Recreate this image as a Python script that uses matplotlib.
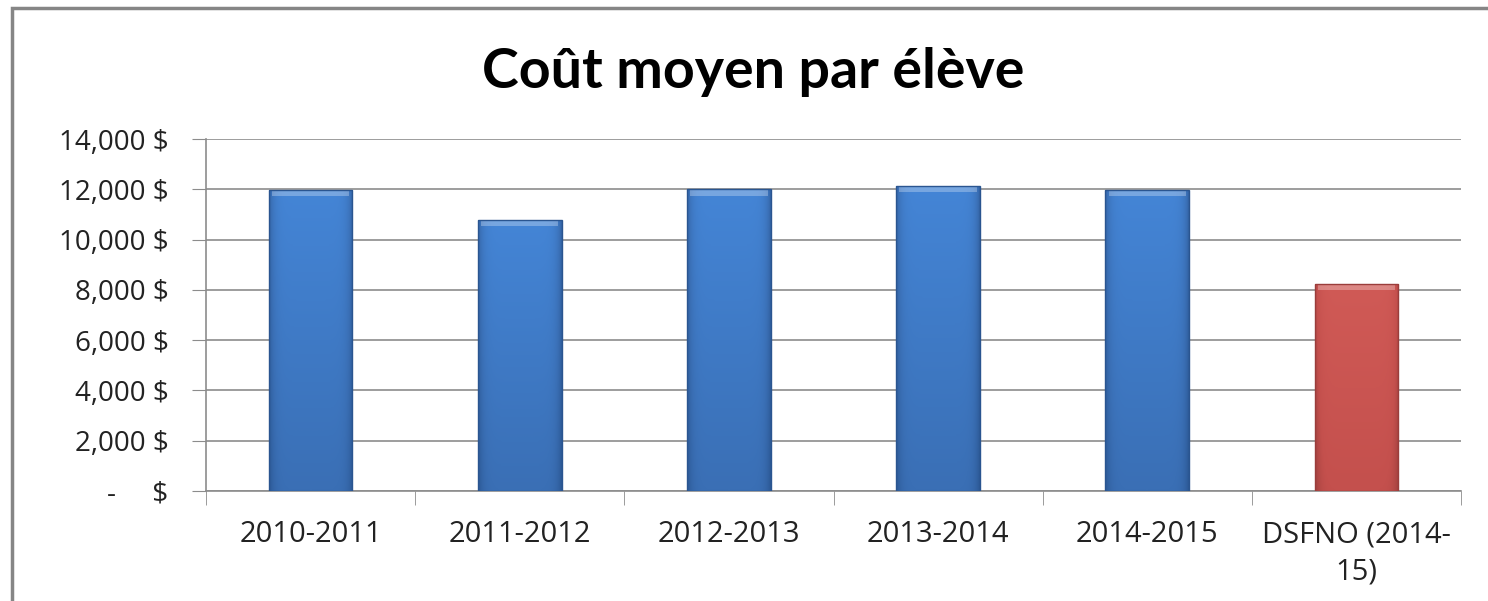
import numpy as np
import matplotlib
matplotlib.use("Agg")
import matplotlib.pyplot as plt
from matplotlib.patches import Rectangle
from matplotlib.colors import LinearSegmentedColormap

plt.rcParams['font.family'] = ['Open Sans', 'DejaVu Sans']

categories = ['2010-2011', '2011-2012', '2012-2013', '2013-2014', '2014-2015', 'DSFNO (2014-\n15)']
values = [11980, 10780, 12000, 12140, 11980, 8230]
yticks = [0, 2000, 4000, 6000, 8000, 10000, 12000, 14000]
ytick_labels = ['-     $', '2,000 $', '4,000 $', '6,000 $', '8,000 $', '10,000 $', '12,000 $', '14,000 $']
title = 'Coût moyen par élève'

blue = LinearSegmentedColormap.from_list('b', ['#2a5590', '#3a6fb5', '#4485d6'])
red = LinearSegmentedColormap.from_list('r', ['#9a3d3b', '#c4504d', '#d05a56'])
bar_cmaps = [blue] * 5 + [red]

fig = plt.figure(figsize=(14.88, 6.01), dpi=100)
ax = fig.add_axes([0.1384, 0.183, 0.8435, 0.5857])

x = np.arange(len(categories))
width = 0.4
bars = ax.bar(x, values, width=width, color='none', zorder=3)

# shading for each bar: lighter in the middle, darker at the edges and bottom
gx = np.linspace(-1, 1, 200)
gy = np.linspace(0, 1, 200)
GX, GY = np.meshgrid(gx, gy)
shade = (1 - 0.5 * np.abs(GX) ** 8) * (0.65 + 0.35 * GY)
for b, v, cm in zip(bars, values, bar_cmaps):
    x0 = b.get_x()
    im = ax.imshow(shade, cmap=cm, vmin=0.3, vmax=1.0, origin='lower', aspect='auto',
                   extent=[x0, x0 + width, 0, v], zorder=3, interpolation='bilinear')
    im.set_clip_path(b)
    # top bevel highlight
    ax.add_patch(Rectangle((x0 + 0.015, v - 250), width - 0.03, 250,
                           color='white', alpha=0.28, lw=0, zorder=4))
    ax.add_patch(Rectangle((x0, 0), width, v, fill=False,
                           ec=cm(0.0), lw=1, zorder=5))

ax.set_xlim(-0.5, len(categories) - 0.5)
ax.set_ylim(0, 14000)
ax.set_yticks(yticks)
ax.set_yticklabels(ytick_labels, fontsize=20, color='#222222')
ax.set_xticks(x)
ax.set_xticklabels(categories, fontsize=21, color='#222222', linespacing=1.4)
ax.set_xticks(np.arange(len(categories) + 1) - 0.5, minor=True)
ax.tick_params(axis='x', which='major', length=0, pad=21)
ax.tick_params(axis='x', which='minor', length=10, color='#8c8c8c', direction='out')
ax.tick_params(axis='y', length=10, color='#8c8c8c', direction='out', pad=17)
ax.grid(axis='y', color='#8c8c8c', lw=1.2, zorder=0)
for s in ['top', 'right']:
    ax.spines[s].set_visible(False)
ax.spines['left'].set_color('#8c8c8c')
ax.spines['bottom'].set_color('#8c8c8c')
ax.spines['left'].set_linewidth(1.2)
ax.spines['bottom'].set_linewidth(1.2)
ax.set_axisbelow(True)

fig.text(0.506, 0.88, title, fontsize=40, fontweight='bold', ha='center', va='center',
         color='black', family=['Lato', 'DejaVu Sans'])

# outer chart border (right and bottom edges fall outside the picture)
fig.add_artist(Rectangle((0.008, -0.05), 1.1, 1.037, transform=fig.transFigure,
                         fill=False, ec='#868686', lw=2.5))

fig.savefig('out.png', dpi=100)
